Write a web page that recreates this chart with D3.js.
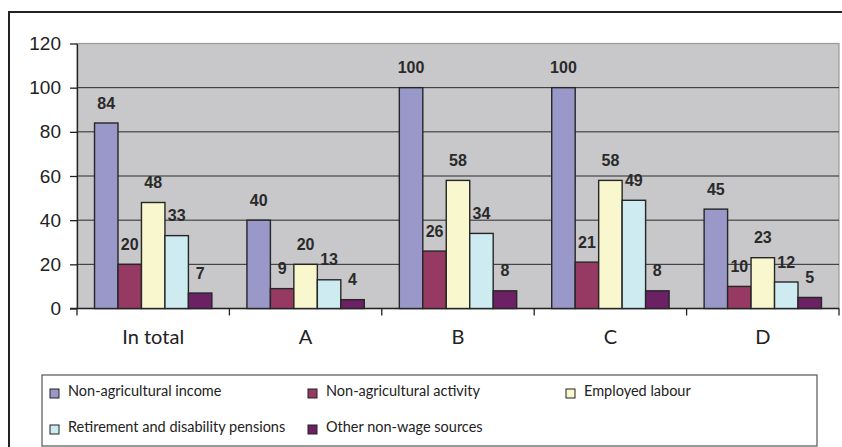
<!DOCTYPE html>
<html>
<head>
<meta charset="utf-8">
<script src="https://cdn.jsdelivr.net/npm/d3@7/dist/d3.min.js"></script>
<style>
  html, body { margin: 0; padding: 0; background: #fff; }
  svg { display: block; }
</style>
</head>
<body>
<svg id="chart" width="842" height="447"></svg>
<script>
// Categories along the x axis
const categories = ["In total", "A", "B", "C", "D"];

// Series names (legend order)
const seriesNames = [
  "Non-agricultural income",
  "Non-agricultural activity",
  "Employed labour",
  "Retirement and disability pensions",
  "Other non-wage sources"
];

// Values per series, one per category
const nonAgriIncome   = [84, 40, 100, 100, 45];
const nonAgriActivity = [20, 9, 26, 21, 10];
const employedLabour  = [48, 20, 58, 58, 23];
const pensions        = [33, 13, 34, 49, 12];
const otherNonWage    = [7, 4, 8, 8, 5];

const yTicks = [0, 20, 40, 60, 80, 100, 120];

const seriesValues = [nonAgriIncome, nonAgriActivity, employedLabour, pensions, otherNonWage];
const colors = ["#9a97c9", "#973a63", "#f9f7cd", "#cdebf0", "#6b2163"];

const svg = d3.select("#chart");

// Outer chart frame (only top and left edges fall inside the view)
svg.append("rect")
  .attr("x", 9).attr("y", 12)
  .attr("width", 900).attr("height", 500)
  .attr("fill", "none")
  .attr("stroke", "#222")
  .attr("stroke-width", 2);

const plot = { left: 77, right: 839, top: 43.5, bottom: 308.5 };

const x = d3.scaleBand()
  .domain(categories)
  .range([plot.left, plot.right])
  .padding(0);

const y = d3.scaleLinear()
  .domain([0, 120])
  .range([plot.bottom, plot.top]);

const groupFrac = 0.77;
const xs = d3.scaleBand()
  .domain(d3.range(seriesNames.length))
  .range([x.bandwidth() * (1 - groupFrac) / 2, x.bandwidth() * (1 + groupFrac) / 2])
  .padding(0);

// Plot area background
svg.append("rect")
  .attr("x", plot.left).attr("y", plot.top)
  .attr("width", plot.right - plot.left)
  .attr("height", plot.bottom - plot.top)
  .attr("fill", "#c8c8ca")
  .attr("stroke", "#9a9a9a")
  .attr("stroke-width", 1.2);

// Horizontal gridlines
svg.append("g")
  .selectAll("line")
  .data(yTicks.filter(d => d > 0 && d < 120))
  .join("line")
  .attr("x1", plot.left).attr("x2", plot.right)
  .attr("y1", d => y(d)).attr("y2", d => y(d))
  .attr("stroke", "#2a2a2a")
  .attr("stroke-width", 1);

// Y axis
const yAxis = svg.append("g")
  .attr("transform", `translate(${plot.left},0)`)
  .call(d3.axisLeft(y).tickValues(yTicks).tickSize(7).tickPadding(9).tickSizeOuter(0));
yAxis.select(".domain").attr("stroke", "#222").attr("stroke-width", 1.3);
yAxis.selectAll(".tick line").attr("stroke", "#222").attr("stroke-width", 1.3);
yAxis.selectAll(".tick text")
  .attr("font-family", "Arial, 'Liberation Sans', sans-serif")
  .attr("font-size", 19)
  .attr("fill", "#222");

// X axis with ticks at category boundaries
const xAxisG = svg.append("g");
xAxisG.append("line")
  .attr("x1", plot.left - 7).attr("x2", plot.right)
  .attr("y1", plot.bottom).attr("y2", plot.bottom)
  .attr("stroke", "#222").attr("stroke-width", 1.3);
xAxisG.selectAll("line.tk")
  .data(categories.map(c => x(c)).concat([plot.right]))
  .join("line")
  .attr("class", "tk")
  .attr("x1", d => d).attr("x2", d => d)
  .attr("y1", plot.bottom).attr("y2", plot.bottom + 7)
  .attr("stroke", "#222").attr("stroke-width", 1.3);
xAxisG.selectAll("text")
  .data(categories)
  .join("text")
  .attr("x", d => x(d) + x.bandwidth() / 2)
  .attr("y", 344)
  .attr("text-anchor", "middle")
  .attr("font-family", "Lato, 'Open Sans', sans-serif")
  .attr("font-size", 20)
  .attr("fill", "#222")
  .text(d => d);

// Bars
const groups = svg.append("g")
  .selectAll("g")
  .data(categories)
  .join("g")
  .attr("transform", d => `translate(${x(d)},0)`);

groups.selectAll("rect")
  .data((c, ci) => seriesValues.map((vals, si) => ({ si, v: vals[ci] })))
  .join("rect")
  .attr("x", d => xs(d.si))
  .attr("width", xs.bandwidth())
  .attr("y", d => y(d.v))
  .attr("height", d => y(0) - y(d.v))
  .attr("fill", d => colors[d.si])
  .attr("stroke", "#262626")
  .attr("stroke-width", 1.4);

// Value labels above bars
groups.selectAll("text")
  .data((c, ci) => seriesValues.map((vals, si) => ({ si, v: vals[ci] })))
  .join("text")
  .attr("x", d => xs(d.si) + xs.bandwidth() / 2)
  .attr("y", d => y(d.v) - 14.5)
  .attr("text-anchor", "middle")
  .attr("font-family", "Arial, 'Liberation Sans', sans-serif")
  .attr("font-weight", "bold")
  .attr("font-size", 16)
  .attr("fill", "#2a2a2a")
  .text(d => d.v);

// Legend
svg.append("rect")
  .attr("x", 42).attr("y", 375)
  .attr("width", 775).attr("height", 71)
  .attr("fill", "#fff")
  .attr("stroke", "#555")
  .attr("stroke-width", 1.2);

const legendPos = [
  [50, 392], [308, 392], [566, 392],
  [50, 428], [308, 428]
];

const legend = svg.append("g")
  .selectAll("g")
  .data(seriesNames)
  .join("g")
  .attr("transform", (d, i) => `translate(${legendPos[i][0]},${legendPos[i][1]})`);

legend.append("rect")
  .attr("x", 0).attr("y", -3)
  .attr("width", 9).attr("height", 9)
  .attr("fill", (d, i) => colors[i])
  .attr("stroke", "#222")
  .attr("stroke-width", 1);

legend.append("text")
  .attr("x", 18).attr("y", 4)
  .attr("font-family", "Lato, 'Open Sans', sans-serif")
  .attr("font-size", 14.5)
  .attr("fill", "#222")
  .text(d => d);
</script>
</body>
</html>
